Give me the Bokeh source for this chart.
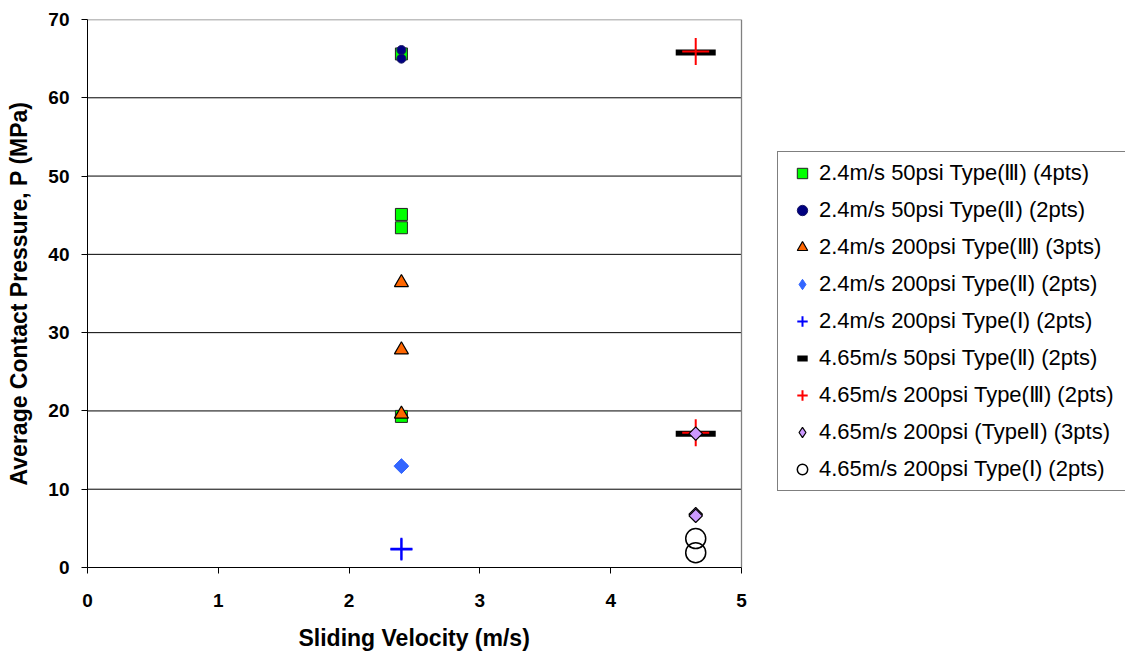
import numpy as np
from bokeh.plotting import figure
from bokeh.models import Legend, LegendItem, FixedTicker, Range1d, Title
from bokeh.embed import file_html
from bokeh.resources import INLINE

# ---- data ----
labels = [
    "2.4m/s 50psi Type(Ⅲ) (4pts)",
    "2.4m/s 50psi Type(Ⅱ) (2pts)",
    "2.4m/s 200psi Type(Ⅲ) (3pts)",
    "2.4m/s 200psi Type(Ⅱ) (2pts)",
    "2.4m/s 200psi Type(Ⅰ) (2pts)",
    "4.65m/s 50psi Type(Ⅱ) (2pts)",
    "4.65m/s 200psi Type(Ⅲ) (2pts)",
    "4.65m/s 200psi (TypeⅡ) (3pts)",
    "4.65m/s 200psi Type(Ⅰ) (2pts)",
]
v_24_50_III = [2.4, 2.4, 2.4, 2.4]
p_24_50_III = [65.6, 45.1, 43.4, 19.3]
v_24_50_II = [2.4, 2.4]
p_24_50_II = [66.1, 65.0]
v_24_200_III = [2.4, 2.4, 2.4]
p_24_200_III = [36.4, 27.8, 19.6]
v_24_200_II = [2.4, 2.4]
p_24_200_II = [13.0, 12.9]
v_24_200_I = [2.4, 2.4]
p_24_200_I = [2.4, 2.3]
v_465_50_II = [4.65, 4.65]
p_465_50_II = [65.8, 17.1]
v_465_200_III = [4.65, 4.65]
p_465_200_III = [65.9, 17.2]
v_465_200_II = [4.65, 4.65, 4.65]
p_465_200_II = [17.1, 6.8, 6.6]
v_465_200_I = [4.65, 4.65]
p_465_200_I = [3.7, 1.9]

x_ticks = [0, 1, 2, 3, 4, 5]
y_ticks = [0, 10, 20, 30, 40, 50, 60, 70]
x_title = "Sliding Velocity (m/s)"
y_title = "Average Contact Pressure, P (MPa)"

FONT = "Liberation Sans"

# layout: the frame runs to the right edge so the legend can sit inside it;
# the x axis itself only covers 0..5 (654 px wide)
W, H = 1125, 652
LEFT, TOP, BOTTOM = 87, 19, 85
AXIS_W = 654
FRAME_W = W - LEFT
x_end = x_ticks[-1] * FRAME_W / AXIS_W

p = figure(width=W, height=H, output_backend="svg", toolbar_location=None,
           x_range=Range1d(0, x_end), y_range=Range1d(y_ticks[0], y_ticks[-1]),
           min_border_left=LEFT, min_border_right=0, min_border_top=TOP, min_border_bottom=BOTTOM)
p.background_fill_color = "white"
p.border_fill_color = "white"
p.outline_line_color = None
p.xgrid.visible = False
p.ygrid.visible = False

# horizontal gridlines and grey plot-area border (top / right)
gy = y_ticks[1:-1]
p.segment(x0=[x_ticks[0]] * len(gy), x1=[x_ticks[-1]] * len(gy), y0=gy, y1=gy,
          line_color="black", line_width=1)
p.segment(x0=[x_ticks[0], x_ticks[-1]], x1=[x_ticks[-1], x_ticks[-1]],
          y0=[y_ticks[-1], y_ticks[0]], y1=[y_ticks[-1], y_ticks[-1]],
          line_color="#808080", line_width=1.3)

for ax, ticks in ((p.xaxis[0], x_ticks), (p.yaxis[0], y_ticks)):
    ax.ticker = FixedTicker(ticks=ticks)
    ax.bounds = (ticks[0], ticks[-1])
    ax.axis_line_color = "black"
    ax.axis_line_width = 1
    ax.major_tick_line_color = "black"
    ax.major_tick_in = 0
    ax.major_tick_out = 6
    ax.minor_tick_line_color = None
    ax.major_label_text_font = FONT
    ax.major_label_text_font_style = "bold"
    ax.major_label_text_font_size = "19px"
    ax.major_label_text_color = "black"
    ax.axis_label_text_font = FONT
    ax.axis_label_text_font_style = "bold"
    ax.axis_label_text_font_size = "23px"
    ax.axis_label_text_color = "black"

p.yaxis.axis_label = y_title
p.xaxis.major_label_standoff = 20
p.yaxis.major_label_standoff = 12
p.yaxis.axis_label_standoff = 13
# blank spacer so the x title below sits a little lower
p.xaxis.axis_label = " "
p.xaxis.axis_label_text_font_size = "8px"
p.xaxis.axis_label_standoff = 1

# x-axis title centred under the 0..5 axis (the frame is wider than the axis)
xt = Title(text=x_title, align="left", offset=211, standoff=0,
           text_font=FONT, text_font_style="bold", text_font_size="23px",
           text_color="black")
p.add_layout(xt, "below")

r = []
r.append(p.scatter(v_24_50_III, p_24_50_III, marker="square", size=12,
                   fill_color="#00FF00", line_color="#222222", line_width=1))
r.append(p.scatter(v_24_50_II, p_24_50_II, marker="circle", size=9,
                   fill_color="#000080", line_color="#1a1a66", line_width=1))
r.append(p.scatter(v_24_200_III, p_24_200_III, marker="triangle", size=14,
                   fill_color="#FF6600", line_color="black", line_width=1.2))
# legend swatch (true diamond), hidden under the rotated square in the plot
r.append(p.scatter(v_24_200_II, p_24_200_II, marker="diamond", size=8,
                   fill_color="#3366FF", line_color="#3366FF", line_width=1))
p.scatter(v_24_200_II, p_24_200_II, marker="square", angle=np.pi / 4, size=10,
          fill_color="#3366FF", line_color="#3366FF", line_width=1)
r.append(p.scatter(v_24_200_I, p_24_200_I, marker="cross", size=22,
                   line_color="#0000FF", line_width=2))
r.append(p.scatter(v_465_50_II, p_465_50_II, marker="dash", size=40,
                   line_color="black", line_width=6))
r.append(p.scatter(v_465_200_III, p_465_200_III, marker="cross", size=27,
                   line_color="#FF0000", line_width=2))
r.append(p.scatter(v_465_200_II, p_465_200_II, marker="diamond", size=7,
                   fill_color="#CC99FF", line_color="black", line_width=1.2))
p.scatter(v_465_200_II, p_465_200_II, marker="square", angle=np.pi / 4, size=9.5,
          fill_color="#CC99FF", line_color="black", line_width=1.2)
r.append(p.scatter(v_465_200_I, p_465_200_I, marker="circle", size=20,
                   fill_color=None, line_color="black", line_width=1.5))

legend = Legend(items=[LegendItem(label=lab, renderers=[rr]) for lab, rr in zip(labels, r)],
                location=(690, 76))
legend.label_text_font = FONT
legend.label_text_font_size = "22px"
legend.label_text_color = "black"
legend.glyph_width = 32
legend.glyph_height = 26
legend.label_height = 26
legend.label_width = 320
legend.spacing = 11
legend.padding = 8
legend.margin = 0
legend.label_standoff = 1
legend.border_line_color = "black"
legend.border_line_width = 1
legend.background_fill_color = "white"
legend.background_fill_alpha = 1
p.add_layout(legend, "center")

open("out.html", "w").write(file_html(p, INLINE))
